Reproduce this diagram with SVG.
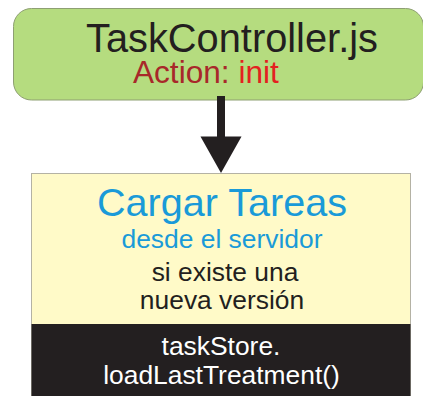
<svg xmlns="http://www.w3.org/2000/svg" width="423" height="396" viewBox="0 0 423 396">
  <defs>
    <style>
      text { font-family: "Liberation Sans", Arial, sans-serif; }
      .ctrl { fill: #b5dc7f; stroke: #8e9f73; stroke-width: 1; }
      .task { fill: #fffac8; stroke: #b4b2a4; stroke-width: 1; }
      .call { fill: #231f20; }
      .dark { fill: #231f20; }
      .blue { fill: #1a9ad8; }
      .white { fill: #ffffff; }
      .mid { text-anchor: middle; }
    </style>
  </defs>

  <!-- controller node -->
  <g id="task-controller">
    <rect class="ctrl" x="13.5" y="8.5" width="410" height="91.5" rx="18" ry="18"/>
    <text x="86" y="51.5" font-size="39.8" class="dark">TaskController.js</text>
    <text x="133" y="83" font-size="31.6"><tspan fill="#a8282a">Action: </tspan><tspan fill="#e4211f">init</tspan></text>
  </g>

  <!-- connectors -->
  <g id="connectors">
    <rect x="217" y="96" width="8" height="42" fill="#231f20"/>
    <polygon points="200.5,136.5 241.5,136.5 221,173" fill="#231f20"/>
  </g>

  <!-- load tasks node -->
  <g id="load-tasks">
    <rect class="task" x="31.5" y="173.5" width="379" height="222"/>
    <rect class="call" x="31.5" y="324" width="379" height="72"/>
    <text x="222" y="216" font-size="39.6" class="blue mid">Cargar Tareas</text>
    <text x="222" y="248" font-size="26.4" class="blue mid">desde el servidor</text>
    <text x="225" y="281" font-size="26.4" class="dark mid">si existe una</text>
    <text x="222" y="309" font-size="26.4" class="dark mid">nueva versión</text>
    <text x="221" y="355" font-size="26.4" class="white mid">taskStore.</text>
    <text x="221.5" y="384" font-size="26.4" class="white mid">loadLastTreatment()</text>
  </g>
</svg>
